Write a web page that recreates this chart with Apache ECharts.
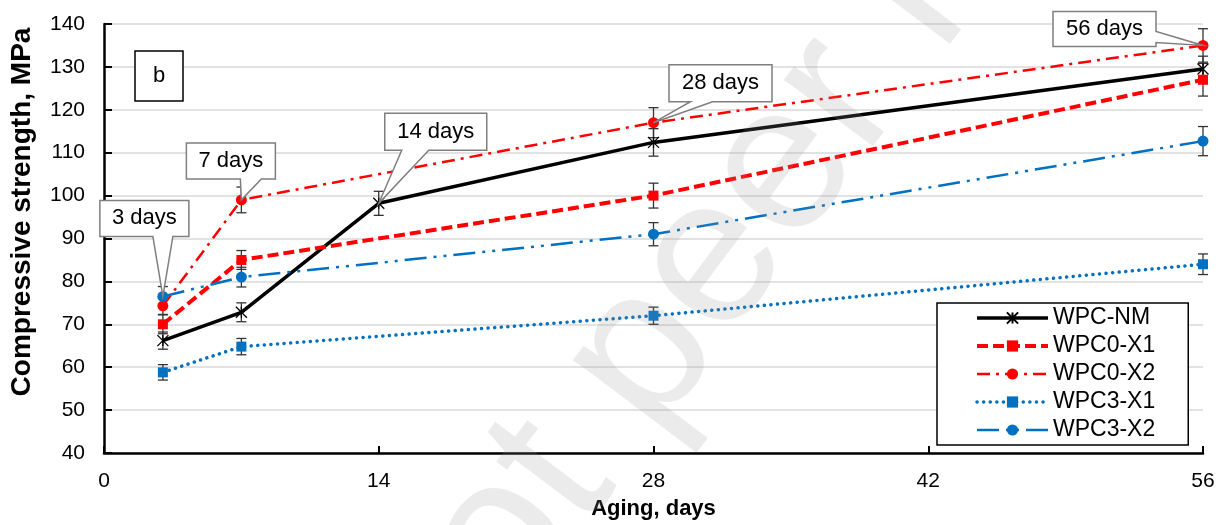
<!DOCTYPE html>
<html>
<head>
<meta charset="utf-8">
<script src="https://cdn.jsdelivr.net/npm/echarts@6/dist/echarts.min.js"></script>
<style>
html,body{margin:0;padding:0;background:#fff;}
#chart{width:1226px;height:525px;}
</style>
</head>
<body>
<div id="chart"></div>
<script>
// ---- data ----
const daysNM = [3, 7, 14, 28, 56];
const daysX = [3, 7, 28, 56];
const wpcNM = [66.2, 72.8, 98.2, 112.4, 129.5];
const wpc0X1 = [70, 85, 100, 127];
const wpc0X2 = [74.3, 99, 117, 135];
const wpc3X1 = [58.8, 64.8, 72, 84];
const wpc3X2 = [76.5, 81, 91, 112.7];
const errNM = [2, 2.2, 2.8, 3.2, 3];
const err0X1 = [2.2, 2.2, 2.9, 3.8];
const err0X2 = [2, 3, 3.5, 3.9];
const err3X1 = [1.8, 1.9, 2, 2.4];
const err3X2 = [2.3, 2.3, 2.7, 3.4];
const seriesNames = ['WPC-NM', 'WPC0-X1', 'WPC0-X2', 'WPC3-X1', 'WPC3-X2'];
const xTickLabels = ['0', '14', '28', '42', '56'];
const yTickLabels = ['40', '50', '60', '70', '80', '90', '100', '110', '120', '130', '140'];
const calloutLabels = ['3 days', '7 days', '14 days', '28 days', '56 days'];
const calloutDays = [3, 7, 14, 28, 56];
const calloutSeries = ['WPC3-X2', 'WPC0-X2', 'WPC-NM', 'WPC0-X2', 'WPC0-X2'];

// ---- styling for callouts (pixel offsets of the box from the pointed point) ----
const calloutStyle = [
  {dx: -18.5, dy: -78, w: 89, h: 36, side: 'bottom', b0: -10, b1: 10},
  {dx: -10.5, dy: -39, w: 89, h: 36, side: 'bottom', b0: -1, b1: 20},
  {dx: 57, dy: -71.5, w: 102, h: 37, side: 'bottom', b0: 23, b1: 50},
  {dx: 67, dy: -39.5, w: 103, h: 37, side: 'bottom', b0: 37, b1: 59},
  {dx: -98.5, dy: -16.5, w: 103, h: 35, side: 'right', b0: -14, b1: -3}
];
const lineWidths = [3.5, 4, 2.5, 3.5, 2.5];

const FONT = '"Liberation Sans", Arial, sans-serif';
const pairs = (xs, ys) => xs.map((x, i) => [x, ys[i]]);
const lookup = {
  'WPC-NM': [daysNM, wpcNM],
  'WPC0-X1': [daysX, wpc0X1],
  'WPC0-X2': [daysX, wpc0X2],
  'WPC3-X1': [daysX, wpc3X1],
  'WPC3-X2': [daysX, wpc3X2]
};

const errData = []
  .concat(daysNM.map((d, i) => [d, wpcNM[i], errNM[i]]))
  .concat(daysX.map((d, i) => [d, wpc0X1[i], err0X1[i]]))
  .concat(daysX.map((d, i) => [d, wpc0X2[i], err0X2[i]]))
  .concat(daysX.map((d, i) => [d, wpc3X1[i], err3X1[i]]))
  .concat(daysX.map((d, i) => [d, wpc3X2[i], err3X2[i]]));

const calloutData = calloutDays.map((d, i) => {
  const [xs, ys] = lookup[calloutSeries[i]];
  return [d, ys[xs.indexOf(d)], i];
});

const starPath = 'path://M0,0L10,10M10,0L0,10M5,0L5,10';

const chart = echarts.init(document.getElementById('chart'), null, {renderer: 'canvas'});
const option = {
  backgroundColor: '#fff',
  animation: false,
  title: {
    text: 'b', left: 135, top: 51, padding: [14, 18, 14, 18],
    borderColor: '#000', borderWidth: 1.5, backgroundColor: '#fff',
    textStyle: {fontFamily: FONT, fontSize: 22, fontWeight: 'normal', color: '#000'}
  },
  grid: {left: 101.5, right: 23, top: 24, bottom: 72, containLabel: false},
  legend: {
    orient: 'vertical', left: 937, top: 303,
    data: seriesNames.map((n, i) => ({name: n, lineStyle: {width: lineWidths[i]}})),
    itemWidth: 71, itemHeight: 14, itemGap: 4,
    padding: [3, 33, 3, 38],
    borderColor: '#000', borderWidth: 1.5, backgroundColor: '#fff',
    textStyle: {fontFamily: FONT, fontSize: 23, color: '#000', lineHeight: 24}
  },
  xAxis: {
    type: 'value', min: 0, max: 56, interval: 14,
    name: 'Aging, days', nameLocation: 'middle', nameGap: 45,
    nameTextStyle: {fontFamily: FONT, fontSize: 22, fontWeight: 'bold', color: '#000'},
    axisLine: {lineStyle: {color: '#000', width: 2.5}},
    axisTick: {inside: true, length: 7, lineStyle: {color: '#000', width: 2}},
    axisLabel: {fontFamily: FONT, fontSize: 21, color: '#000', margin: 18,
      formatter: (v, i) => xTickLabels[i]},
    splitLine: {show: false}
  },
  yAxis: {
    type: 'value', min: 40, max: 140, interval: 10,
    name: 'Compressive strength, MPa', nameLocation: 'middle', nameGap: 68, nameRotate: 90,
    nameTextStyle: {fontFamily: FONT, fontSize: 28, fontWeight: 'bold', color: '#000', padding: [0, 0, 0, 53]},
    axisLine: {show: true, lineStyle: {color: '#000', width: 2.5}},
    axisTick: {show: true, inside: true, length: 8, lineStyle: {color: '#000', width: 2}},
    axisLabel: {fontFamily: FONT, fontSize: 21, color: '#000', margin: 19,
      formatter: (v, i) => yTickLabels[i]},
    splitLine: {show: true, lineStyle: {color: '#d9d9d9', width: 1.5}}
  },
  graphic: [{
    type: 'text', x: 888, y: 30, rotation: 0.925, z: 100, silent: true,
    style: {
      text: 'Not peer reviewed', fontSize: 210, fontFamily: FONT,
      fill: 'rgba(150,150,150,0.19)', align: 'center', verticalAlign: 'middle',
      textAlign: 'center', textVerticalAlign: 'middle'
    }
  }],
  series: [
    {
      name: 'error', type: 'custom', silent: true, z: 3, clip: false,
      data: errData,
      renderItem: function (params, api) {
        const x = api.value(0), y = api.value(1), e = api.value(2);
        const t = api.coord([x, y + e]), b = api.coord([x, y - e]);
        const cw = 5, st = {stroke: '#333', lineWidth: 1.3};
        return {type: 'group', children: [
          {type: 'line', shape: {x1: t[0], y1: t[1], x2: b[0], y2: b[1]}, style: st},
          {type: 'line', shape: {x1: t[0] - cw, y1: t[1], x2: t[0] + cw, y2: t[1]}, style: st},
          {type: 'line', shape: {x1: b[0] - cw, y1: b[1], x2: b[0] + cw, y2: b[1]}, style: st}
        ]};
      }
    },
    {
      name: 'WPC-NM', type: 'line', z: 4, data: pairs(daysNM, wpcNM),
      symbol: starPath, symbolSize: 11,
      itemStyle: {color: '#000', borderColor: '#000', borderWidth: 1.3},
      lineStyle: {color: '#000', width: lineWidths[0], type: 'solid'}
    },
    {
      name: 'WPC0-X1', type: 'line', z: 4, data: pairs(daysX, wpc0X1),
      symbol: 'rect', symbolSize: 10,
      itemStyle: {color: '#ff0000', borderWidth: 0},
      lineStyle: {color: '#ff0000', width: lineWidths[1], type: [11, 5]}
    },
    {
      name: 'WPC0-X2', type: 'line', z: 4, data: pairs(daysX, wpc0X2),
      symbol: 'circle', symbolSize: 11,
      itemStyle: {color: '#ff0000', borderWidth: 0},
      lineStyle: {color: '#ff0000', width: lineWidths[2], type: [13, 6, 3, 6]}
    },
    {
      name: 'WPC3-X1', type: 'line', z: 4, data: pairs(daysX, wpc3X1),
      symbol: 'rect', symbolSize: 10,
      itemStyle: {color: '#0070c0', borderWidth: 0},
      lineStyle: {color: '#0070c0', width: lineWidths[3], type: [0.1, 6.5], cap: 'round'}
    },
    {
      name: 'WPC3-X2', type: 'line', z: 4, data: pairs(daysX, wpc3X2),
      symbol: 'circle', symbolSize: 11,
      itemStyle: {color: '#0070c0', borderWidth: 0},
      lineStyle: {color: '#0070c0', width: lineWidths[4], type: [22, 7, 3, 7, 3, 7]}
    },
    {
      name: 'callouts', type: 'custom', silent: true, z: 10, clip: false,
      data: calloutData,
      renderItem: function (params, api) {
        const p = api.coord([api.value(0), api.value(1)]);
        const s = calloutStyle[api.value(2)];
        const cx = p[0] + s.dx, cy = p[1] + s.dy;
        const L = cx - s.w / 2, R = cx + s.w / 2, T = cy - s.h / 2, B = cy + s.h / 2;
        let pts;
        if (s.side === 'bottom') {
          pts = [[L, T], [R, T], [R, B], [p[0] + s.b1, B], [p[0], p[1]], [p[0] + s.b0, B], [L, B]];
        } else {
          pts = [[L, T], [R, T], [R, p[1] + s.b0], [p[0], p[1]], [R, p[1] + s.b1], [R, B], [L, B]];
        }
        return {type: 'group', children: [
          {type: 'polygon', shape: {points: pts}, style: {fill: '#fff', stroke: '#7f7f7f', lineWidth: 1.5}},
          {type: 'text', x: cx, y: cy, style: {
            text: calloutLabels[api.value(2)], fontSize: 22, fontFamily: FONT, fill: '#000',
            align: 'center', verticalAlign: 'middle'}}
        ]};
      }
    }
  ]
};
chart.setOption(option);
</script>
</body>
</html>
